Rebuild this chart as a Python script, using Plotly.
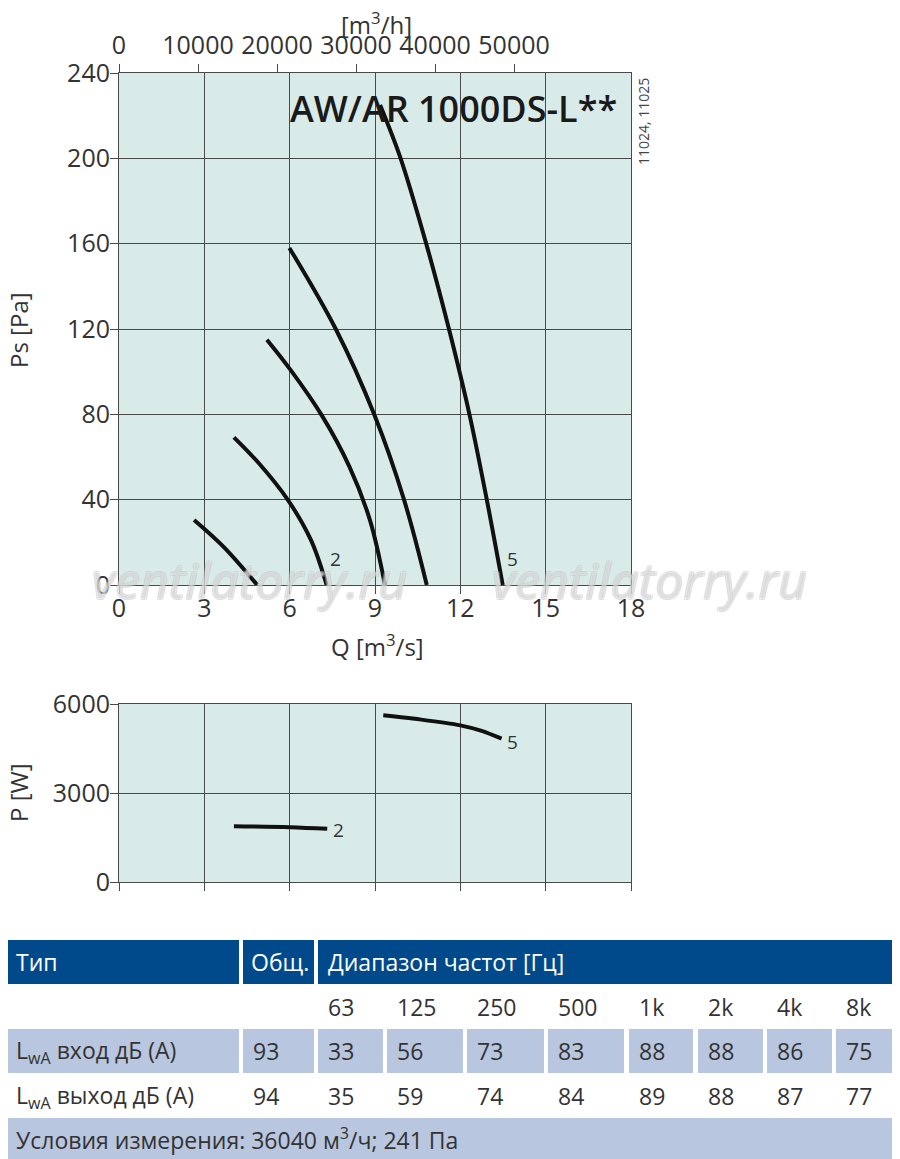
import plotly.graph_objects as go

# fan curves, Q [m3/s] vs Ps [Pa]
q1 = [2.64, 3.67, 4.86]
ps1 = [30.5, 18, 0]
q2 = [4.04, 4.94, 5.93, 6.75, 7.3]
ps2 = [69.2, 56.7, 40, 21, 0]
q3 = [5.2, 6.05, 7.13, 8.1, 8.82, 9.35]
ps3 = [115, 100.5, 79.5, 55.5, 30.5, 0]
q4 = [5.99, 7.62, 8.97, 10.02, 10.82]
ps4 = [158, 120, 80, 40, 0]
q5 = [9.18, 9.9, 10.8, 11.6, 12.32, 12.93, 13.49]
ps5 = [225, 200, 160, 120, 80, 40, 0]

# power curves, Q [m3/s] vs P [W]
pq2 = [4.04, 6.0, 7.32]
pw2 = [1881, 1847, 1791]
pq5 = [9.29, 10.4, 12.0, 12.72, 13.45]
pw5 = [5620, 5500, 5280, 5100, 4830]

q_ticks = [0, 3, 6, 9, 12, 15, 18]
ps_ticks = [0, 40, 80, 120, 160, 200, 240]
p_ticks = [0, 3000, 6000]
m3h_ticks = [0, 10000, 20000, 30000, 40000, 50000]

# sound table
bands = ["63", "125", "250", "500", "1k", "2k", "4k", "8k"]
lwa_in_total = 93
lwa_in = [33, 56, 73, 83, 88, 88, 86, 75]
lwa_out_total = 94
lwa_out = [35, 59, 74, 84, 89, 88, 87, 77]

W, H = 900, 1159
OFF = 8  # page body margin
BG = "#d8ebe9"
GRID = "#4a4a4a"
TXT = "#333333"
FONT = "Open Sans"


def xp(px):
    return (px - OFF) / W


def yp(py):
    return 1 - (py - OFF) / H


fig = go.Figure()

for q, ps in [(q1, ps1), (q2, ps2), (q3, ps3), (q4, ps4), (q5, ps5)]:
    fig.add_trace(go.Scatter(x=q, y=ps, mode="lines", xaxis="x", yaxis="y",
                             line=dict(color="#111111", width=4, shape="spline"),
                             showlegend=False, hoverinfo="skip"))

# invisible trace so the m3/h axis gets drawn
fig.add_trace(go.Scatter(x=[v * 3600 for v in q5], y=ps5, mode="lines", xaxis="x3", yaxis="y",
                         opacity=0, showlegend=False, hoverinfo="skip"))

for q, pw in [(pq2, pw2), (pq5, pw5)]:
    fig.add_trace(go.Scatter(x=q, y=pw, mode="lines", xaxis="x2", yaxis="y2",
                             line=dict(color="#111111", width=4, shape="spline"),
                             showlegend=False, hoverinfo="skip"))

axis_style = dict(showgrid=True, gridcolor=GRID, gridwidth=1, showline=True, linecolor=GRID,
                  linewidth=1, mirror=True, ticks="outside", ticklen=8, tickcolor=GRID,
                  zeroline=False, tickfont=dict(family=FONT, size=25, color=TXT))

fig.update_layout(
    width=W, height=H,
    margin=dict(l=0, r=0, t=0, b=0, autoexpand=False),
    paper_bgcolor="white", plot_bgcolor=BG,
    xaxis=dict(axis_style, domain=[xp(119), xp(631)], range=[0, 18], tickvals=q_ticks, anchor="y",
               ticklabelstandoff=-7),
    yaxis=dict(axis_style, domain=[yp(585), yp(73)], range=[0, 240], tickvals=ps_ticks, anchor="x",
               ticklabelstandoff=-5),
    xaxis3=dict(axis_style, overlaying="x", side="top", anchor="y", range=[0, 18 * 3600],
                tickvals=m3h_ticks, tickformat="d", showgrid=False, showline=False, mirror=False),
    xaxis2=dict(axis_style, domain=[xp(119), xp(631)], range=[0, 18], tickvals=q_ticks,
                showticklabels=False, anchor="y2"),
    yaxis2=dict(axis_style, domain=[yp(882), yp(704)], range=[0, 6000], tickvals=p_ticks, anchor="x2",
                ticklabelstandoff=-5),
)

# box behind the title that hides the grid lines
fig.add_shape(type="rect", xref="paper", yref="paper", x0=xp(283), x1=xp(622), y0=yp(143), y1=yp(85),
              fillcolor=BG, line=dict(width=0), layer="between")

ann = []
ann.append(dict(text="AW/AR 1000DS-L**", x=xp(453), y=yp(108), font=dict(family=FONT, size=36, color="#1a1a1a", weight=600)))
ann.append(dict(text="11024, 11025", x=xp(643), y=yp(122), textangle=-90, font=dict(family=FONT, size=14, color="#444")))
ann.append(dict(text="[m<sup>3</sup>/h]", x=xp(376), y=yp(24), font=dict(family=FONT, size=24, color=TXT)))
ann.append(dict(text="Q [m<sup>3</sup>/s]", x=xp(377), y=yp(645), font=dict(family=FONT, size=24, color=TXT)))
ann.append(dict(text="Ps [Pa]", x=xp(18), y=yp(330), textangle=-90, font=dict(family=FONT, size=24, color=TXT)))
ann.append(dict(text="P [W]", x=xp(18), y=yp(793), textangle=-90, font=dict(family=FONT, size=24, color=TXT)))
for a in ann:
    a.update(xref="paper", yref="paper", showarrow=False, xanchor="center", yanchor="middle")
    fig.add_annotation(**a)

# curve labels
fig.add_annotation(text="2", x=q2[-1] + 0.3, y=12, xref="x", yref="y", showarrow=False,
                   font=dict(family=FONT, size=19, color=TXT))
fig.add_annotation(text="5", x=q5[-1] + 0.35, y=12, xref="x", yref="y", showarrow=False,
                   font=dict(family=FONT, size=19, color=TXT))
fig.add_annotation(text="2", x=pq2[-1] + 0.4, y=pw2[-1] - 30, xref="x2", yref="y2", showarrow=False,
                   font=dict(family=FONT, size=19, color=TXT))
fig.add_annotation(text="5", x=pq5[-1] + 0.4, y=pw5[-1] - 120, xref="x2", yref="y2", showarrow=False,
                   font=dict(family=FONT, size=19, color=TXT))

# watermark
for cx in [249, 649]:
    fig.add_annotation(text="ventilatorry.ru", x=xp(cx), y=yp(580), xref="paper", yref="paper",
                       showarrow=False, xanchor="center", yanchor="middle",
                       font=dict(family=FONT, size=50, color="rgba(255,255,255,0.3)", style="italic",
                                 shadow="-1px -1px 0 #bdbdbd, 1px -1px 0 #bdbdbd, -1px 1px 0 #bdbdbd, 1px 1px 0 #bdbdbd"))

# ---- table ----
HEAD = "#004a8b"
ROW = "#b9c6df"
col_l = [3, 243, 318, 387, 467, 548, 629, 698, 767, 836]
col_r = [239, 314, 383, 463, 544, 624, 693, 763, 832, 897]


def cell(x0, x1, y0, y1, color):
    fig.add_shape(type="rect", xref="paper", yref="paper", x0=xp(x0), x1=xp(x1), y0=yp(y1), y1=yp(y0),
                  fillcolor=color, line=dict(width=0), layer="below")


def txt(s, x, y, color=TXT, size=23):
    fig.add_annotation(text=s, x=xp(x), y=yp(y), xref="paper", yref="paper", showarrow=False,
                       xanchor="left", yanchor="middle", font=dict(family=FONT, size=size, color=color))


# header
cell(col_l[0], col_r[0], 940, 984, HEAD)
cell(col_l[1], col_r[1], 940, 984, HEAD)
cell(col_l[2], col_r[-1], 940, 984, HEAD)
txt("Тип", col_l[0] + 11, 962, "white")
txt("Общ.", col_l[1] + 6, 962, "white")
txt("Диапазон частот [Гц]", col_l[2] + 8, 962, "white")

# band row
for i, b in enumerate(bands):
    txt(b, col_l[i + 2] + 8, 1007)

# inlet row
for i in range(len(col_l)):
    cell(col_l[i], col_r[i], 1029, 1073, ROW)
txt("L<sub>wA</sub> вход дБ (А)", col_l[0] + 11, 1051)
txt(str(lwa_in_total), col_l[1] + 8, 1051)
for i, v in enumerate(lwa_in):
    txt(str(v), col_l[i + 2] + 8, 1051)

# outlet row
txt("L<sub>wA</sub> выход дБ (А)", col_l[0] + 11, 1096)
txt(str(lwa_out_total), col_l[1] + 8, 1096)
for i, v in enumerate(lwa_out):
    txt(str(v), col_l[i + 2] + 8, 1096)

# conditions row
cell(col_l[0], col_r[-1], 1118, 1167, ROW)
txt("Условия измерения: 36040 м<sup>3</sup>/ч; 241 Па", col_l[0] + 11, 1139)

fig.write_html("out.html")
